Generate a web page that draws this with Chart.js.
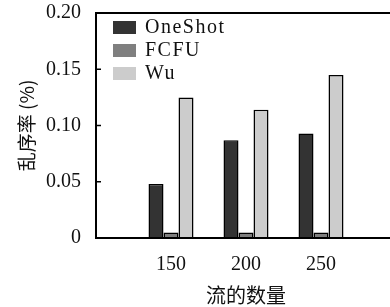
<!DOCTYPE html>
<html lang="zh">
<head>
<meta charset="UTF-8">
<title>乱序率</title>
<script src="https://cdn.jsdelivr.net/npm/chart.js@4/dist/chart.umd.min.js"></script>
<style>
  html, body { margin: 0; padding: 0; background: #fff; overflow: hidden; }
  #wrap { width: 390px; height: 307px; overflow: hidden; }
</style>
</head>
<body>
<div id="wrap"><canvas id="grafico" width="400" height="307"></canvas></div>
<script>
// dados
const categorias = ['', '150', '200', '250', ''];
const oneShot = [null, 0.048, 0.087, 0.093, null];
const fcfu = [null, 0.005, 0.005, 0.005, null];
const wu = [null, 0.125, 0.114, 0.145, null];
const yTicks = [0, 0.05, 0.10, 0.15, 0.20];

const serif = "'Liberation Serif', 'DejaVu Serif', serif";
const cjk = "'Noto Sans CJK SC', sans-serif";

// moldura (topo, esquerda, base) + marcas internas do eixo y
const moldura = {
  id: 'moldura',
  afterDraw(chart) {
    const ctx = chart.ctx, a = chart.chartArea, y = chart.scales.y;
    const w = chart.width;
    ctx.save();
    // limpa qualquer resto na borda direita (fora do recorte original)
    ctx.fillStyle = '#fff';
    ctx.fillRect(a.right - 20, a.top + 2, w, a.bottom - a.top - 4);
    ctx.strokeStyle = '#000';
    ctx.lineWidth = 2;
    ctx.beginPath();
    ctx.moveTo(w, a.top);
    ctx.lineTo(a.left, a.top);
    ctx.lineTo(a.left, a.bottom);
    ctx.lineTo(w, a.bottom);
    ctx.stroke();
    ctx.lineWidth = 1.5;
    y.ticks.forEach(t => {
      const py = y.getPixelForValue(t.value);
      ctx.beginPath();
      ctx.moveTo(a.left, py);
      ctx.lineTo(a.left + 5, py);
      ctx.stroke();
    });
    ctx.restore();
  }
};

// legenda dentro da área do gráfico
const legenda = {
  id: 'legenda',
  afterDraw(chart) {
    const ctx = chart.ctx, a = chart.chartArea;
    ctx.save();
    ctx.font = '20px ' + serif;
    ctx.letterSpacing = '1.5px';
    ctx.textBaseline = 'middle';
    chart.data.datasets.forEach((ds, i) => {
      const top = a.top + 8 + i * 23;
      ctx.fillStyle = ds.backgroundColor;
      ctx.fillRect(a.left + 17, top, 23, 13);
      ctx.fillStyle = '#111';
      ctx.fillText(ds.label, a.left + 49, top + 7);
    });
    ctx.restore();
  }
};

const config = {
  type: 'bar',
  data: {
    labels: categorias,
    datasets: [
      { label: 'OneShot', data: oneShot, backgroundColor: '#333333', borderColor: '#000', borderWidth: 1.5 },
      { label: 'FCFU', data: fcfu, backgroundColor: '#7f7f7f', borderColor: '#000', borderWidth: 1.5 },
      { label: 'Wu', data: wu, backgroundColor: '#cccccc', borderColor: '#000', borderWidth: 1.5 }
    ]
  },
  options: {
    responsive: false,
    animation: false,
    devicePixelRatio: 1,
    categoryPercentage: 0.6,
    barPercentage: 1.0,
    layout: { padding: { left: 0, top: 13, right: 4, bottom: 0 } },
    plugins: { legend: { display: false }, tooltip: { enabled: false } },
    scales: {
      x: {
        offset: false,
        grid: { display: false, drawTicks: false },
        border: { display: false },
        ticks: { color: '#111', font: { family: serif, size: 20 }, padding: 15, maxRotation: 0, autoSkip: false },
        title: { display: true, text: '流的数量', color: '#111', font: { family: cjk, size: 20 }, padding: { top: 2, bottom: 0 } },
        afterFit(s) { s.height = 69; s.paddingLeft = 0; s.paddingRight = 0; }
      },
      y: {
        min: 0, max: 0.2,
        afterBuildTicks(s) { s.ticks = yTicks.map(v => ({ value: v })); },
        grid: { display: false, drawTicks: false },
        border: { display: false },
        ticks: {
          color: '#111', font: { family: serif, size: 20 }, padding: 15,
          callback: v => v === 0 ? '0' : v.toFixed(2)
        },
        title: { display: true, text: '乱序率 (%)', color: '#111', font: { family: cjk, size: 19 }, padding: { top: 15, bottom: 0 } },
        afterFit(s) { s.width = 96; s.paddingTop = 0; s.paddingBottom = 0; }
      }
    }
  },
  plugins: [moldura, legenda]
};

new Chart(document.getElementById('grafico'), config);
</script>
</body>
</html>
